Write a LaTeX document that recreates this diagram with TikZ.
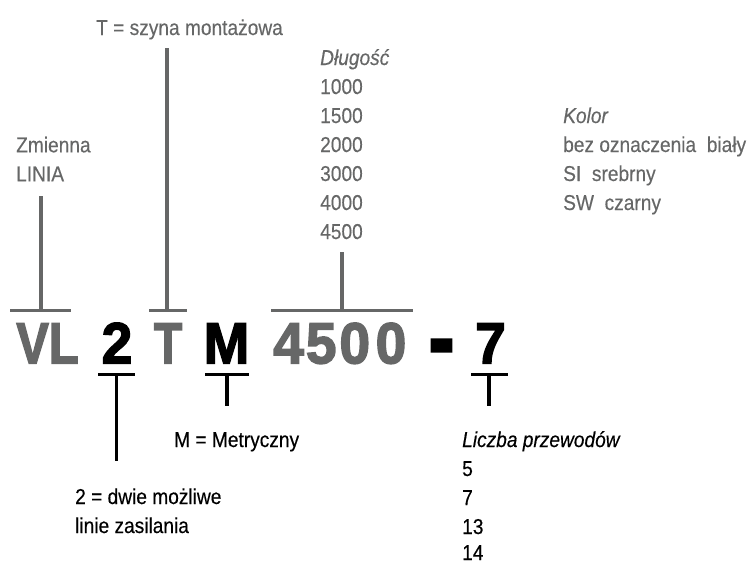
\documentclass[tikz,border=0pt]{standalone}
\usepackage{fontspec}
\setmainfont{Liberation Sans}[FakeStretch=0.89, UprightFeatures={FakeBold=0.3}, ItalicFeatures={FakeBold=0.3}]
\newfontfamily\codefont{Liberation Sans}[BoldFeatures={FakeBold=2.6}]
\definecolor{tgray}{RGB}{102,103,103}
\begin{document}
\begin{tikzpicture}[x=1pt,y=-1pt,
  lbl/.style={anchor=base west, inner sep=0pt, font=\fontsize{21.5}{29}\selectfont},
  glbl/.style={lbl, text=tgray},
  klbl/.style={lbl, text=black},
  code/.style={anchor=base, inner sep=0pt, font=\codefont\bfseries\fontsize{58}{60}\selectfont},
  gline/.style={draw=tgray, line width=3.4pt},
  kline/.style={draw=black, line width=3.4pt}]
\useasboundingbox (0,0) rectangle (747,563);

% upper labels
\node[glbl] (tlab) at (96,35) {T = szyna montażowa};
\node[glbl] (zm) at (16,152.3) {Zmienna};
\node[glbl] (linia) at (16,181.3) {LINIA};
\node[glbl] (dl) at (320,65) {\itshape Długość};
\foreach \t [count=\i] in {1000,1500,2000,3000,4000,4500}
  \node[glbl] (len\i) at (320,65+29*\i) {\t};
\node[glbl] (kol) at (563,123) {\itshape Kolor};
\node[glbl] (k1) at (563,152) {bez oznaczenia\ \ biały};
\node[glbl] (k2) at (563,181) {SI\ \ srebrny};
\node[glbl] (k3) at (563,210) {SW\ \ czarny};

% code
\node[code, text=tgray] (cVL) at (47.5,363.3) {\scalebox{0.84}[1]{VL}};
\node[code, text=black] (c2) at (117,363.3) {\scalebox{0.95}[1]{2}};
\node[code, text=tgray] (cT) at (168,363.3) {\scalebox{0.8}[1]{T}};
\node[code, text=black] (cM) at (226.5,363.3) {\scalebox{0.95}[1]{M}};
\node[code, text=tgray] (d1) at (288.7,363.3) {\scalebox{0.95}[1]{4}};
\node[code, text=tgray] (d2) at (321.2,363.3) {\scalebox{0.95}[1]{5}};
\node[code, text=tgray] (d3) at (354.8,363.3) {\scalebox{0.95}[1]{0}};
\node[code, text=tgray] (d4) at (391,363.3) {\scalebox{0.95}[1]{0}};
\node[code, text=black, anchor=north] (hy) at (441.5,339.5) {\scalebox{1.35}[1.7]{-}};
\node[code, text=black] (c7) at (490.5,363.3) {\scalebox{0.95}[1]{7}};

% lower labels
\node[klbl] (mlab) at (174,447) {M = Metryczny};
\node[klbl] (twoa) at (75,504) {2 = dwie możliwe};
\node[klbl] (twob) at (75,533) {linie zasilania};
\node[klbl] (lp) at (462,447) {\itshape Liczba przewodów};
\foreach \t [count=\i] in {5,7,13}
  \node[klbl] (w\i) at (462,447+29*\i) {\t};
\node[klbl] (w4) at (462,560) {14};

% upper bars
\coordinate (vlL) at (10,310.7);  \coordinate (vlR) at (71,310.7);
\coordinate (vlM) at (41,310.7);  \coordinate (vlTop) at (41,196);
\coordinate (tL) at (149,310.7);  \coordinate (tR) at (187,310.7);
\coordinate (tM) at (167,310.7);  \coordinate (tTop) at (167,48);
\coordinate (lL) at (271,310.7);  \coordinate (lR) at (413,310.7);
\coordinate (lM) at (342,310.7);  \coordinate (lTop) at (342,252);
\draw[gline] (vlL) -- (vlR);  \draw[gline] (vlTop) -- (vlM);
\draw[gline] (tL) -- (tR);    \draw[gline] (tTop) -- (tM);
\draw[gline] (lL) -- (lR);    \draw[gline] (lTop) -- (lM);

% lower bars
\coordinate (bL) at (98,374.5);   \coordinate (bR) at (135,374.5);
\coordinate (bM) at (116.7,374.5); \coordinate (bBot) at (116.7,461);
\coordinate (mL) at (205,374.5);  \coordinate (mR) at (249,374.5);
\coordinate (mM) at (227,374.5);  \coordinate (mBot) at (227,406);
\coordinate (sL) at (471,374.5);  \coordinate (sR) at (508,374.5);
\coordinate (sM) at (489,374.5);  \coordinate (sBot) at (489,406);
\draw[kline] (bL) -- (bR);  \draw[kline] (bM) -- (bBot);
\draw[kline] (mL) -- (mR);  \draw[kline] (mM) -- (mBot);
\draw[kline] (sL) -- (sR);  \draw[kline] (sM) -- (sBot);
\end{tikzpicture}
\end{document}
